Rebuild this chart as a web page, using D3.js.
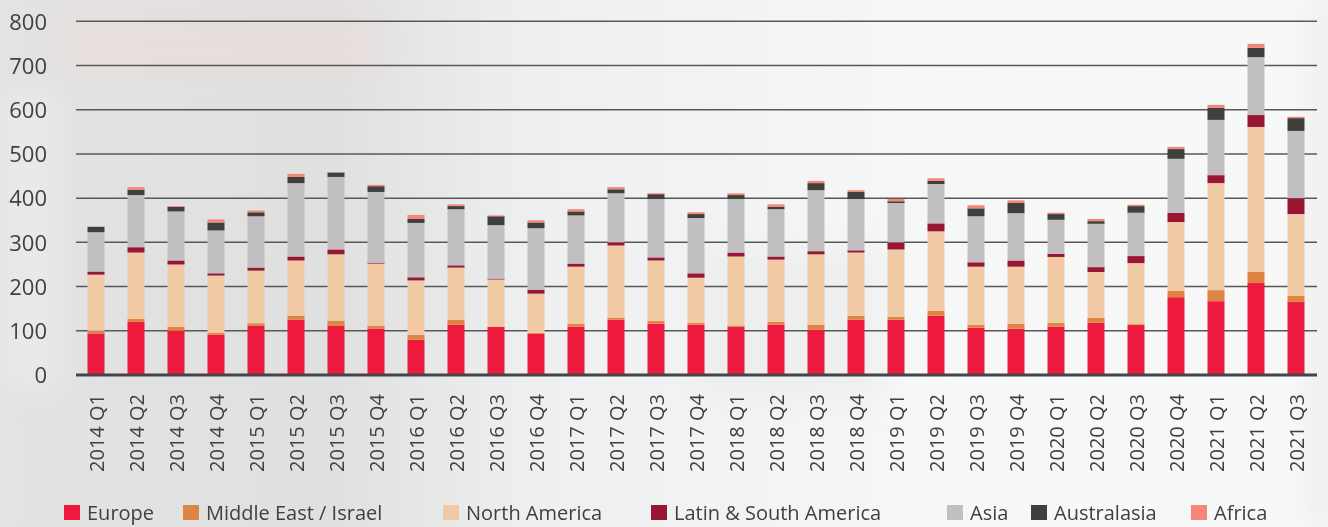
<!DOCTYPE html>
<html>
<head>
<meta charset="utf-8">
<script src="https://cdn.jsdelivr.net/npm/d3@7"></script>
<style>
  html, body { margin: 0; padding: 0; background: #f4f5f5; }
  svg { display: block; font-family: "Open Sans", "DejaVu Sans", sans-serif; }
</style>
</head>
<body>
<svg id="chart" width="1328" height="527"></svg>
<script>
// Quarterly deal counts by region (stacked)
const quarters = [
  "2014 Q1","2014 Q2","2014 Q3","2014 Q4",
  "2015 Q1","2015 Q2","2015 Q3","2015 Q4",
  "2016 Q1","2016 Q2","2016 Q3","2016 Q4",
  "2017 Q1","2017 Q2","2017 Q3","2017 Q4",
  "2018 Q1","2018 Q2","2018 Q3","2018 Q4",
  "2019 Q1","2019 Q2","2019 Q3","2019 Q4",
  "2020 Q1","2020 Q2","2020 Q3","2020 Q4",
  "2021 Q1","2021 Q2","2021 Q3"
];

const europe      = [94,120,100,91,111,125,111,105,80,114,109,93,109,125,116,114,109,114,102,125,125,134,107,105,109,118,113,176,167,208,165];
const middleEast  = [6,7,9,4,6,9,12,6,11,11,0,2,7,5,7,4,3,6,12,9,7,11,7,11,9,11,2,14,25,25,14];
const northAmerica= [127,150,141,130,119,125,150,141,123,118,107,89,129,163,136,102,156,141,159,143,152,180,131,129,149,104,138,156,242,328,185];
const latinAmerica= [7,12,9,5,7,9,11,2,7,5,2,9,7,7,7,10,9,7,7,5,16,18,10,14,7,11,16,21,18,27,36];
const asia        = [89,118,111,97,116,166,164,160,123,127,121,139,109,111,132,125,121,107,138,116,89,89,104,107,77,98,98,122,125,131,152];
const australasia = [12,12,10,18,9,14,10,13,9,7,20,13,9,9,11,9,9,5,16,16,4,7,18,23,13,6,15,22,27,21,29];
const africa      = [1,6,2,7,4,7,1,3,9,4,2,5,5,5,2,4,4,6,5,4,5,6,7,6,3,5,3,5,7,9,3];

const regionNames = ["Europe","Middle East / Israel","North America","Latin & South America","Asia","Australasia","Africa"];
const regionKeys  = ["europe","middleEast","northAmerica","latinAmerica","asia","australasia","africa"];
const regionColors = ["#ee1a3d","#df8543","#f1c9a5","#961634","#c1bfc1","#3f3f3d","#f2877a"];
const yTicks = [0,100,200,300,400,500,600,700,800];

const series = { europe, middleEast, northAmerica, latinAmerica, asia, australasia, africa };
const rows = quarters.map((q, i) => {
  const r = { quarter: q };
  regionKeys.forEach(k => r[k] = series[k][i]);
  return r;
});

const svg = d3.select("#chart");
const W = 1328, H = 527;

// Soft backdrop
const defs = svg.append("defs");
const bg = defs.append("linearGradient").attr("id", "bg").attr("x1", 0).attr("x2", 1).attr("y1", 0).attr("y2", 0);
bg.append("stop").attr("offset", "0%").attr("stop-color", "#e3e3e3");
bg.append("stop").attr("offset", "25%").attr("stop-color", "#e0e0e0");
bg.append("stop").attr("offset", "40%").attr("stop-color", "#eeeff0");
bg.append("stop").attr("offset", "70%").attr("stop-color", "#f6f8f8");
bg.append("stop").attr("offset", "100%").attr("stop-color", "#f7f8f8");
const blur = defs.append("filter").attr("id", "soft").attr("x", "-20%").attr("y", "-20%").attr("width", "140%").attr("height", "140%");
blur.append("feGaussianBlur").attr("stdDeviation", 14);

svg.append("rect").attr("width", W).attr("height", H).attr("fill", "url(#bg)");
const haze = svg.append("g").attr("filter", "url(#soft)");
haze.append("rect").attr("x", 60).attr("y", 10).attr("width", 320).attr("height", 70).attr("fill", "#ecdcda").attr("opacity", 0.5);
haze.append("rect").attr("x", 0).attr("y", 90).attr("width", 60).attr("height", 300).attr("fill", "#ebebeb").attr("opacity", 0.7);
haze.append("rect").attr("x", 1316).attr("y", 0).attr("width", 14).attr("height", H).attr("fill", "#e2e3e3").attr("opacity", 0.9);
haze.append("rect").attr("x", 700).attr("y", 250).attr("width", 180).attr("height", 150).attr("fill", "#e9ebeb").attr("opacity", 0.6);

// Scales
const x = d3.scaleBand().domain(quarters).range([76, 1316]).paddingInner(0.575).paddingOuter(0.2875);
const y = d3.scaleLinear().domain([0, 800]).range([375, 21.3]);

// Grid lines
const grid = svg.append("g");
grid.selectAll("line").data(yTicks.filter(t => t > 0)).join("line")
  .attr("x1", 76).attr("x2", 1317)
  .attr("y1", d => y(d)).attr("y2", d => y(d))
  .attr("stroke", "#585858").attr("stroke-width", 1.5);

// Y axis labels
const yAxis = d3.axisLeft(y).tickValues(yTicks).tickSize(0).tickPadding(0);
const yg = svg.append("g").attr("transform", "translate(47,0)").call(yAxis);
yg.select(".domain").remove();
yg.selectAll("text").attr("font-size", 22).attr("fill", "#404040")
  .attr("font-family", "\"Open Sans\", sans-serif").attr("dy", "0.35em");

// Stacked bars
const stack = d3.stack().keys(regionKeys);
const layers = stack(rows);
svg.append("g").selectAll("g").data(layers).join("g")
  .attr("fill", (d, i) => regionColors[i])
  .selectAll("rect").data(d => d).join("rect")
  .attr("x", d => x(d.data.quarter))
  .attr("width", x.bandwidth())
  .attr("y", d => y(d[1]))
  .attr("height", d => y(d[0]) - y(d[1]));

// Baseline
svg.append("line").attr("x1", 76).attr("x2", 1317).attr("y1", y(0)).attr("y2", y(0))
  .attr("stroke", "#454545").attr("stroke-width", 3);

// X axis labels (rotated)
const xAxis = d3.axisBottom(x).tickSize(0).tickPadding(0);
const xg = svg.append("g").attr("transform", "translate(0,394)").call(xAxis);
xg.select(".domain").remove();
xg.selectAll("text")
  .attr("font-size", 20).attr("fill", "#404040")
  .attr("font-family", "\"Open Sans\", sans-serif")
  .attr("transform", "rotate(-90)")
  .attr("text-anchor", "end")
  .attr("x", 0).attr("y", 0).attr("dy", "0.38em");

// Legend
const legendX = [64, 183, 443, 651, 947, 1031, 1191];
const legend = svg.append("g").selectAll("g").data(regionNames).join("g")
  .attr("transform", (d, i) => `translate(${legendX[i]},0)`);
legend.append("rect").attr("x", 0).attr("y", 505).attr("width", 16).attr("height", 15)
  .attr("fill", (d, i) => regionColors[i]);
legend.append("text").attr("x", 23).attr("y", 519.5)
  .attr("font-size", 20).attr("fill", "#404040")
  .text(d => d);
</script>
</body>
</html>
